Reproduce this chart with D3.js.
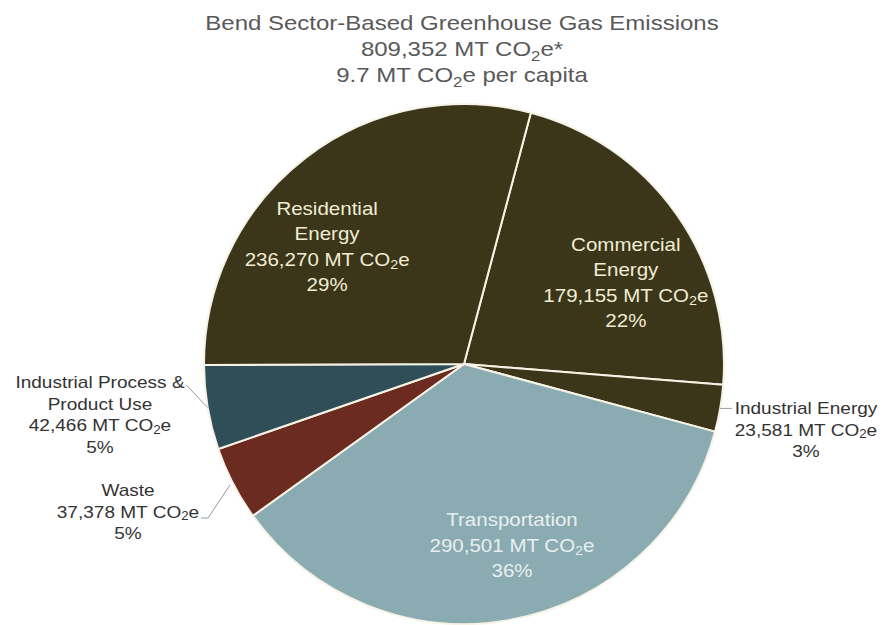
<!DOCTYPE html>
<html><head><meta charset="utf-8">
<script src="https://cdn.jsdelivr.net/npm/d3@7"></script>
<style>
body{margin:0;background:#fff;}
text{font-family:"Liberation Sans",Arial,sans-serif;}
</style></head>
<body><svg id="chart" width="896" height="625"></svg>
<script>
// ---- data ----
const categories = ["Commercial Energy","Industrial Energy","Transportation","Waste","Industrial Process & Product Use","Residential Energy"];
const values = [179155, 23581, 290501, 37378, 42466, 236270];
const valueLabels = ["179,155","23,581","290,501","37,378","42,466","236,270"];
const pctLabels = ["22%","3%","36%","5%","5%","29%"];
const nameLines = [["Commercial","Energy"],["Industrial Energy"],["Transportation"],["Waste"],["Industrial Process &","Product Use"],["Residential","Energy"]];
const titleLines = ["Bend Sector-Based Greenhouse Gas Emissions","809,352 MT CO\u2082e*","9.7 MT CO\u2082e per capita"];
const colors = ["#3b3619","#3b3619","#8aabb1","#6c2b21","#2f4e57","#3b3619"];

const svg = d3.select("#chart");
const cx = 464, cy = 364, R = 260;
const startDeg = 14.9;
const toRad = d => d*Math.PI/180;

const pie = d3.pie().sort(null).value(d=>d)
  .startAngle(toRad(startDeg)).endAngle(toRad(startDeg+360));
const arcs = pie(values);
const arc = d3.arc().innerRadius(0).outerRadius(R);

const g = svg.append("g").attr("transform",`translate(${cx},${cy})`);
g.selectAll("path.slice").data(arcs).enter().append("path")
  .attr("class","slice")
  .attr("d",arc)
  .attr("fill",(d,i)=>colors[i])
  .attr("stroke","#f6f3e6").attr("stroke-width",2).attr("stroke-linejoin","round");

// helper: write a line, rendering "CO2e" with subscript 2
function writeLine(textSel, str, fs){
  const parts = str.split("\u2082");
  if(parts.length===1){ textSel.text(str); return; }
  textSel.append("tspan").text(parts[0]);
  textSel.append("tspan").text("2").attr("font-size",fs*0.7).attr("dy",fs*0.25);
  textSel.append("tspan").text(parts[1]).attr("dy",-fs*0.25);
}

// title
const tfs = 20;
titleLines.forEach((t,i)=>{
  const tx = svg.append("text")
    .attr("transform",`translate(${462},${30+i*26}) scale(1.2,1)`)
    .attr("text-anchor","middle").attr("font-size",tfs).attr("fill","#595959");
  writeLine(tx,t,tfs);
});

// label layout: inside labels by polar (angle deg, radius), outside by x,y
const layout = [
  {type:"in", ang:63.4, r:181, color:"#f1ecd4"},
  {type:"out", x:806, y:430},
  {type:"in", ang:165.2, r:188, color:"#e8eff0"},
  {type:"out", x:128, y:512},
  {type:"out", x:100, y:415},
  {type:"in", ang:310.5, r:180, color:"#f1ecd4"}
];

arcs.forEach((a,i)=>{
  const L = layout[i];
  const lines = nameLines[i].concat([valueLabels[i]+" MT CO\u2082e", pctLabels[i]]);
  let x,y,fs,lh,fill,sx;
  if(L.type==="in"){
    x = cx + L.r*Math.sin(toRad(L.ang));
    y = cy - L.r*Math.cos(toRad(L.ang));
    fs = 18; lh = 25.5; fill = L.color; sx=1.14;
  } else {
    x = L.x; y = L.y; fs = 17; lh = 21.5; fill = "#333"; sx=1.12;
  }
  const y0 = y - (lines.length-1)*lh/2;
  lines.forEach((ln,j)=>{
    const t = svg.append("text")
      .attr("transform",`translate(${x},${y0+j*lh}) scale(${sx},1)`)
      .attr("text-anchor","middle").attr("dominant-baseline","central")
      .attr("font-size",fs).attr("fill",fill);
    writeLine(t,ln,fs);
  });
  if(L.type==="out"){
    const mid = (a.startAngle+a.endAngle)/2;
    const px = cx + R*Math.sin(mid), py = cy - R*Math.cos(mid);
    let pts;
    if(i===1){ pts = [[px,py],[x-74,py]]; }
    else if(i===3){ pts = [[px-3,py+1],[x+80,y0+lh+6],[x+73,y0+lh+6]]; }
    else { pts = [[px,py],[x+86,y0+2]]; }
    svg.append("path").attr("d",d3.line()(pts))
      .attr("fill","none").attr("stroke","#999").attr("stroke-width",1);
  }
});
</script>
</body></html>
